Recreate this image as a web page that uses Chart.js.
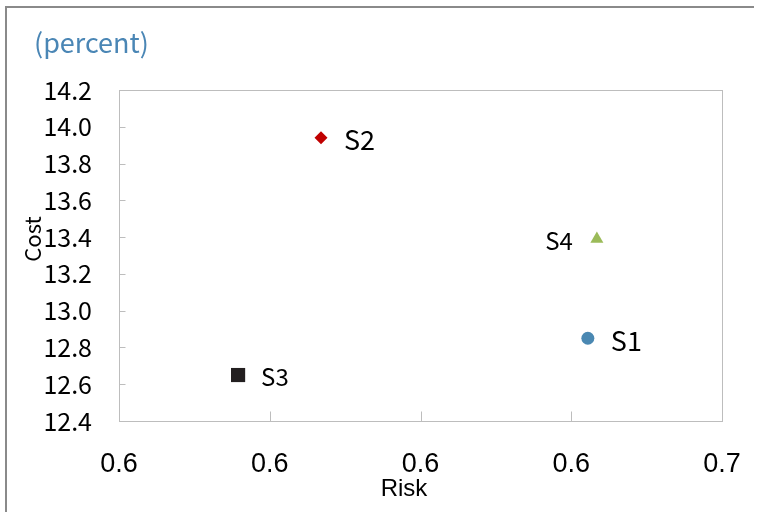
<!DOCTYPE html>
<html>
<head>
<meta charset="utf-8">
<script src="https://cdn.jsdelivr.net/npm/chart.js@4.4.1/dist/chart.umd.min.js"></script>
<style>
  html, body { margin: 0; padding: 0; background: #ffffff; }
  #wrap { width: 758px; height: 512px; }
</style>
</head>
<body>
<div id="wrap"><canvas id="c" width="758" height="512"></canvas></div>
<script>
// Scenario data: risk (x) against cost (y, percent)
const seriesNames = ['S1', 'S2', 'S3', 'S4'];
const riskValues = [0.6411, 0.6234, 0.6179, 0.6417];
const costValues = [12.85, 13.94, 12.65, 13.39];

// Axis ticks and their printed labels
const riskTicks = [0.61, 0.62, 0.63, 0.64, 0.65];
const riskTickLabels = ['0.6', '0.6', '0.6', '0.6', '0.7'];
const costTicks = [12.4, 12.6, 12.8, 13.0, 13.2, 13.4, 13.6, 13.8, 14.0, 14.2];
const costTickLabels = ['12.4', '12.6', '12.8', '13.0', '13.2', '13.4', '13.6', '13.8', '14.0', '14.2'];

const unitText = '(percent)';
const xTitle = 'Risk';
const yTitle = 'Cost';

// Marker and label styling per series
const markerStyle = [
  { shape: 'circle',   radius: 6.5, color: '#4a88b2' },
  { shape: 'rectRot',  radius: 6.5, color: '#c00000' },
  { shape: 'rect',     radius: 10,  color: '#231f20' },
  { shape: 'triangle', radius: 7.5, color: '#9bbb59' }
];
const labelStyle = [
  { side: 'right', size: 27 },
  { side: 'right', size: 27 },
  { side: 'right', size: 24 },
  { side: 'left',  size: 24 }
];

const KR = "'Noto Sans CJK KR', 'Noto Sans', sans-serif";
const NARROW = "'Liberation Sans Narrow', 'Liberation Sans', Arial, sans-serif";

const datasets = seriesNames.map((name, i) => ({
  label: name,
  data: [{ x: riskValues[i], y: costValues[i] }],
  pointStyle: markerStyle[i].shape,
  pointRadius: markerStyle[i].radius,
  pointBackgroundColor: markerStyle[i].color,
  pointBorderColor: markerStyle[i].color,
  pointBorderWidth: 0
}));

const decorations = {
  id: 'decorations',
  beforeDraw(chart) {
    const ctx = chart.ctx;
    ctx.save();
    ctx.fillStyle = '#ffffff';
    ctx.fillRect(0, 0, chart.width, chart.height);
    // outer frame (left and top edges)
    ctx.fillStyle = '#8a8a8a';
    ctx.fillRect(5, 6, 2, chart.height - 6);
    ctx.fillRect(5, 6, 749, 2);
    // unit caption
    ctx.fillStyle = '#4a86b5';
    ctx.font = '27px ' + KR;
    ctx.textBaseline = 'middle';
    ctx.textAlign = 'left';
    ctx.fillText(unitText, 34, 43);
    ctx.restore();
  },
  beforeDatasetsDraw(chart) {
    const ctx = chart.ctx;
    const a = chart.chartArea;
    const xs = chart.scales.x, ys = chart.scales.y;
    const L = Math.round(a.left) + 0.5, R = Math.round(a.right) + 0.5;
    const T = Math.round(a.top) + 0.5, B = Math.round(a.bottom) + 0.5;
    ctx.save();
    ctx.strokeStyle = '#bdbdbd';
    ctx.lineWidth = 1;
    ctx.strokeRect(L, T, R - L, B - T);
    ctx.beginPath();
    // inward tick marks on the left edge
    costTicks.forEach(v => {
      const y = Math.round(ys.getPixelForValue(v)) + 0.5;
      ctx.moveTo(L, y); ctx.lineTo(L + 6, y);
    });
    // inward tick marks on the bottom edge
    riskTicks.forEach(v => {
      const x = Math.round(xs.getPixelForValue(v)) + 0.5;
      ctx.moveTo(x, B); ctx.lineTo(x, B - 10);
    });
    ctx.stroke();
    // axis titles
    ctx.fillStyle = '#000000';
    ctx.textAlign = 'center';
    ctx.textBaseline = 'middle';
    ctx.font = '24px ' + NARROW;
    ctx.fillText(xTitle, 404, 489);
    ctx.translate(33, 239);
    ctx.rotate(-Math.PI / 2);
    ctx.font = '22px ' + KR;
    ctx.fillText(yTitle, 0, 0);
    ctx.restore();
  },
  afterDatasetsDraw(chart) {
    const ctx = chart.ctx;
    ctx.save();
    ctx.fillStyle = '#000000';
    ctx.textBaseline = 'middle';
    chart.data.datasets.forEach((ds, i) => {
      const pt = chart.getDatasetMeta(i).data[0];
      const st = labelStyle[i];
      ctx.font = st.size + 'px ' + KR;
      if (st.side === 'right') {
        ctx.textAlign = 'left';
        ctx.fillText(ds.label, pt.x + 23, pt.y + 2);
      } else {
        ctx.textAlign = 'right';
        ctx.fillText(ds.label, pt.x - 24, pt.y + 2);
      }
    });
    ctx.restore();
  }
};

new Chart(document.getElementById('c'), {
  type: 'scatter',
  data: { datasets },
  options: {
    responsive: false,
    animation: false,
    events: [],
    layout: { padding: { left: 0, top: 90, right: 36, bottom: 0 } },
    plugins: {
      legend: { display: false },
      tooltip: { enabled: false },
      title: { display: false }
    },
    scales: {
      x: {
        type: 'linear',
        min: riskTicks[0],
        max: riskTicks[riskTicks.length - 1],
        afterBuildTicks: s => { s.ticks = riskTicks.map(v => ({ value: v })); },
        afterFit: s => { s.height = 91; s.paddingLeft = 0; s.paddingRight = 0; },
        grid: { display: false, drawTicks: false },
        border: { display: false },
        ticks: {
          padding: 27,
          maxRotation: 0,
          autoSkip: false,
          color: '#000000',
          font: { family: NARROW, size: 27 },
          callback: (v, idx) => riskTickLabels[idx]
        }
      },
      y: {
        type: 'linear',
        min: costTicks[0],
        max: costTicks[costTicks.length - 1],
        afterBuildTicks: s => { s.ticks = costTicks.map(v => ({ value: v })); },
        afterFit: s => { s.width = 119; s.paddingTop = 0; s.paddingBottom = 0; },
        grid: { display: false, drawTicks: false },
        border: { display: false },
        ticks: {
          padding: 27,
          autoSkip: false,
          color: '#000000',
          font: { family: KR, size: 25 },
          callback: (v, idx) => costTickLabels[idx]
        }
      }
    }
  },
  plugins: [decorations]
});
</script>
</body>
</html>
